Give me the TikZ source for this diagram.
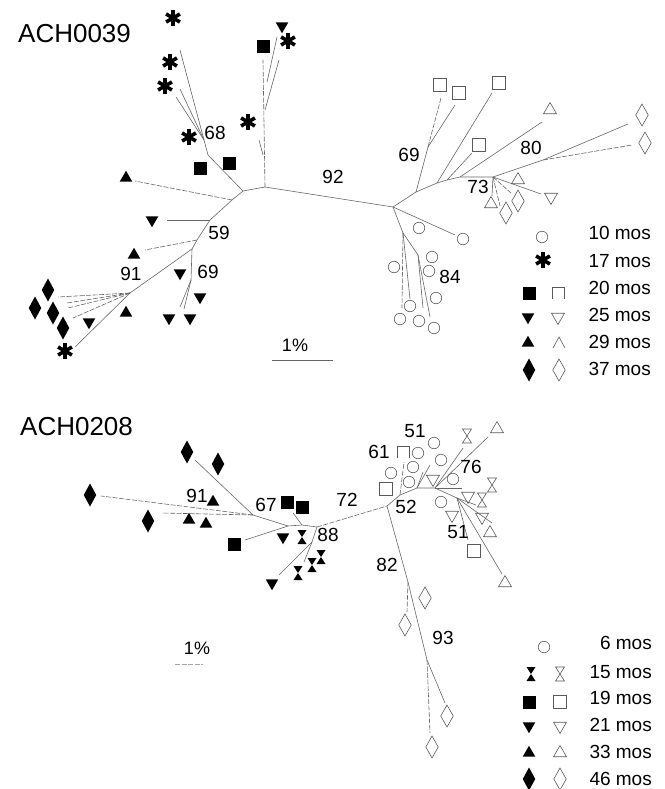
\documentclass[tikz,border=0pt]{standalone}
\usepackage{fontspec}
\setmainfont{Liberation Sans}
\usetikzlibrary{shapes.geometric}
\definecolor{BrGray}{HTML}{666666}
\definecolor{OpGray}{HTML}{5A5A5A}
\tikzset{
  every node/.style={font=\fontsize{19}{22}\selectfont},
  % branches
  br/.style={draw=BrGray, line width=0.6pt},
  brd/.style={br, dash pattern=on 5pt off 1.5pt},
  % texts
  ttl/.style={anchor=west, inner sep=0pt, font=\fontsize{26}{30}\selectfont},
  bs/.style={inner sep=0pt},
  lg/.style={anchor=east, inner sep=0pt},
  sclab/.style={inner sep=0pt, font=\fontsize{18}{21}\selectfont},
  % symbols
  sym/.style={inner sep=0pt, outer sep=0pt},
  fsq/.style={sym, rectangle, fill=black, minimum size=13pt},
  osq/.style={sym, rectangle, draw=OpGray, line width=0.6pt, minimum size=12.5pt},
  ftru/.style={sym, regular polygon, regular polygon sides=3, fill=black, minimum size=14.5pt},
  ftrd/.style={ftru, shape border rotate=180},
  otru/.style={sym, regular polygon, regular polygon sides=3, draw=OpGray, line width=0.6pt, minimum size=15pt},
  otrd/.style={otru, shape border rotate=180},
  fdia/.style={sym, diamond, fill=black, minimum width=12.5pt, minimum height=23pt},
  odia/.style={sym, diamond, draw=OpGray, line width=0.6pt, minimum width=12.5pt, minimum height=22pt},
  ocir/.style={sym, circle, draw=OpGray, line width=0.6pt, minimum size=11.5pt},
  ast/.style={sym, circle, minimum size=22pt, path picture={
      \foreach \a in {90,30,150}
        \draw[line width=3.6pt] (path picture bounding box.center)
          ++(\a:8pt) -- ++(\a+180:16pt);}},
  fhg/.style={sym, rectangle, minimum width=12pt, minimum height=17pt, path picture={
      \fill (path picture bounding box.center) ++(-4.5pt,7pt) -- ++(9pt,0pt)
        -- ++(-9pt,-14pt) -- ++(9pt,0pt) -- cycle;}},
  ohg/.style={sym, rectangle, minimum width=12pt, minimum height=17pt, path picture={
      \draw[OpGray, line width=0.6pt] (path picture bounding box.center) ++(-4.5pt,7pt)
        -- ++(9pt,0pt) -- ++(-9pt,-14pt) -- ++(9pt,0pt) -- cycle;}},
  % open square / triangle printed without their bottom edge
  osqc/.style={sym, rectangle, minimum size=15pt, path picture={
      \draw[OpGray, line width=0.6pt] (path picture bounding box.center) ++(-6pt,-6pt)
        -- ++(0pt,12pt) -- ++(12pt,0pt) -- ++(0pt,-12pt);}},
  otrc/.style={sym, rectangle, minimum size=15pt, path picture={
      \draw[OpGray, line width=0.6pt] (path picture bounding box.center) ++(-6pt,-5pt)
        -- ++(6pt,11pt) -- ++(6pt,-11pt);}},
}

\begin{document}
\begin{tikzpicture}[x=1pt, y=-1pt]
\useasboundingbox (0,0) rectangle (664,789);

% ================= ACH0039 =================
\node[ttl] (ttlA) at (18,34) {ACH0039};

% inner nodes
\foreach \n/\x/\y in {t0/265/187, t1/243/191, t68/208/155, t68b/204/140,
    tA/232/200, tB/210/220, tC/197/240, tD/192/249, t69/191/280, t91/130/293,
    tv0/263/60, tv1/263/155, tv2/265/110, tv3/267/82,
    t92/393/207, r69/416/192, r69b/428/147, rc1/437/183, rc2/447/180,
    rc3/460/177, r73/493/177, r80/543/160, r84a/403/233, r84b/418/255}
  \coordinate (\n) at (\x,\y);
% branch tips
\foreach \n/\x/\y in {e1/180/50, e2/180/89, e3/176/97, e4/259/140, e5/279/60,
    e6/277/37, e7/135/181, e8/167/220, e9/145/250, e10/180/307, e11/184/309,
    e12/58/297, e13/67/303, e14/68/308, e15/73/318, e16/75/347,
    e17/441/98, e18/455/105, e19/492/93, e20/472/153, e21/542/122,
    e22/628/124, e23/632/145, e24/541/194, e25/492/196, e26/500/206, e27/511/193,
    e28/455/235, e29/402/308, e30/410/299, e31/430/317, e32/423/308}
  \coordinate (\n) at (\x,\y);

% branches
\draw[br] (t0) -- (t1) -- (t68) -- (e1);
\draw[br] (t1) -- (tA) -- (tB) -- (tC) -- (tD) -- (t91) -- (e16);
\draw[br] (t0) -- (t92) -- (r69) -- (rc1) -- (rc2) -- (rc3) -- (r73) -- (r80) -- (e22);
\draw[brd] (t0) -- (tv0);
\foreach \a/\b in {t68b/e2, t68b/e3, tv1/e4, tv2/e5, tv3/e6, tB/e8, tD/t69,
    t69/e10, t69/e11, r69/r69b, r69b/e18, rc1/e19, rc2/e20, rc3/e21, r73/e24,
    r73/e25, t92/e28, t92/r84a, r84a/e30, r84a/r84b, r84b/e31, r84b/e32}
  \draw[br] (\a) -- (\b);
\foreach \a/\b in {tA/e7, tC/e9, t91/e12, t91/e13, t91/e14, t91/e15,
    r69b/e17, r80/e23, r73/e26, r73/e27, r84a/e29}
  \draw[brd] (\a) -- (\b);

% bootstrap values
\foreach \t/\x/\y [count=\i] in {68/215/133, 92/333/177, 59/219/233, 69/208/272,
    91/131/274, 69/409/155, 80/531/148, 73/478/187, 84/450/277}
  \node[bs] (bsA\i) at (\x,\y) {\t};

% scale bar
\coordinate (scA1) at (272,360);
\coordinate (scA2) at (333,360);
\draw[br] (scA1) -- (scA2);
\node[sclab] (scAl) at (295,345) {1\%};

% legend
\foreach \t/\y [count=\i] in {10/233, 17/261, 20/288, 25/315, 29/342, 37/369}
  \node[lg] (lgA\i) at (651,\y) {\t\ mos};

% ================= ACH0208 =================
\node[ttl] (ttlB) at (20,427) {ACH0208};

% inner nodes
\foreach \n/\x/\y in {b88/317/527, b88b/312/542, b67c/302/525, b67b/288/526,
    b67/253/515, b52/387/506, b52a/400/495, b52b/417/488, b76/435/488,
    b51/457/498, b82/408/582, b93/427/660}
  \coordinate (\n) at (\x,\y);
% branch tips
\foreach \n/\x/\y in {f1/195/460, f2/101/496, f3/162/513, f4/245/540, f5/293/513,
    f6/279/575, f7/304/562, f8/404/462, f9/423/472, f10/430/465, f11/488/437,
    f12/463/448, f13/462/488, f14/492/523, f15/502/574, f16/468/540, f17/476/505,
    f18/407/612, f19/445/703, f20/430/733}
  \coordinate (\n) at (\x,\y);

% branches
\draw[brd] (b88) -- (b52);
\draw[br] (b88) -- (b67c) -- (b67b) -- (b67) -- (f1);
\draw[br] (b52) -- (b52a) -- (b52b) -- (b76) -- (b51);
\draw[br] (b52) -- (b82) -- (b93) -- (f19);
\foreach \a/\b in {b67b/f4, b67c/f5, b88/b88b, b88b/f6, b88b/f7, b52b/f9,
    b52b/f10, b76/f11, b76/f12, b76/f13, b51/f14, b51/f15, b51/f16, b51/f17}
  \draw[br] (\a) -- (\b);
\foreach \a/\b in {b67/f2, b67/f3, b52a/f8, b82/f18, b93/f20}
  \draw[brd] (\a) -- (\b);

% bootstrap values
\foreach \t/\x/\y [count=\i] in {91/197/496, 67/266/505, 88/328/535, 72/347/500,
    61/379/452, 51/415/431, 52/406/507, 76/471/467, 51/458/532, 82/387/565,
    93/443/638}
  \node[bs] (bsB\i) at (\x,\y) {\t};

% scale bar
\coordinate (scB1) at (175,664);
\coordinate (scB2) at (203,664);
\draw[brd, draw=black!35] (scB1) -- (scB2);
\node[sclab] (scBl) at (197,648) {1\%};

% legend
\foreach \t/\y [count=\i] in {6/643, 15/672, 19/698, 21/725, 33/752, 46/779}
  \node[lg] (lgB\i) at (652,\y) {\t\ mos};

% ================= symbols =================
\foreach \x/\y [count=\i] in {173/18, 170/62, 165/86, 189/137, 248/122, 288/41,
    65/351, 543/260}
  \node[ast] (as\i) at (\x,\y) {};
\foreach \x/\y [count=\i] in {263/47, 200/168, 229/163, 529/293,
    287/502, 302/507, 234/544, 529/702}
  \node[fsq] (fs\i) at (\x,\y) {};
\foreach \x/\y [count=\i] in {282/26, 152/220, 89/322, 169/318, 190/318, 200/297,
    180/273, 528/317, 283/537, 272/583, 529/726}
  \node[ftrd] (fd\i) at (\x,\y) {};
\foreach \x/\y [count=\i] in {126/178, 134/255, 126/313, 528/343,
    213/502, 189/520, 206/524, 529/753}
  \node[ftru] (fu\i) at (\x,\y) {};
\foreach \x/\y [count=\i] in {48/290, 35/308, 53/313, 63/328, 529/370,
    187/452, 218/464, 90/495, 148/521, 529/779}
  \node[fdia] (fm\i) at (\x,\y) {};
\foreach \x/\y [count=\i] in {302/537, 321/557, 312/565, 298/573, 531/674}
  \node[fhg] (fh\i) at (\x,\y) {};
\foreach \x/\y [count=\i] in {440/85, 459/93, 499/83, 479/145,
    386/489, 474/551, 560/702}
  \node[osq] (os\i) at (\x,\y) {};
\foreach \x/\y [count=\i] in {558/293, 403/452}
  \node[osqc] (oc\i) at (\x,\y) {};
\foreach \x/\y [count=\i] in {550/110, 518/180, 491/204,
    497/429, 490/533, 505/583, 560/753}
  \node[otru] (ou\i) at (\x,\y) {};
\node[otrc] (ot1) at (559,343) {};
\foreach \x/\y [count=\i] in {551/197, 558/317,
    433/479, 468/496, 452/515, 482/517, 560/726}
  \node[otrd] (od\i) at (\x,\y) {};
\foreach \x/\y [count=\i] in {642/115, 645/143, 506/213, 518/201, 559/370,
    425/598, 405/625, 447/716, 432/747, 560/779}
  \node[odia] (om\i) at (\x,\y) {};
\foreach \x/\y [count=\i] in {467/436, 492/485, 482/500, 560/674}
  \node[ohg] (oh\i) at (\x,\y) {};
\foreach \x/\y [count=\i] in {419/228, 463/239, 432/257, 394/267, 429/271,
    436/298, 410/306, 400/319, 419/321, 434/328, 542/237,
    391/473, 409/482, 413/467, 418/453, 434/443, 441/460, 453/479, 441/502, 544/647}
  \node[ocir] (ci\i) at (\x,\y) {};

\end{tikzpicture}
\end{document}
